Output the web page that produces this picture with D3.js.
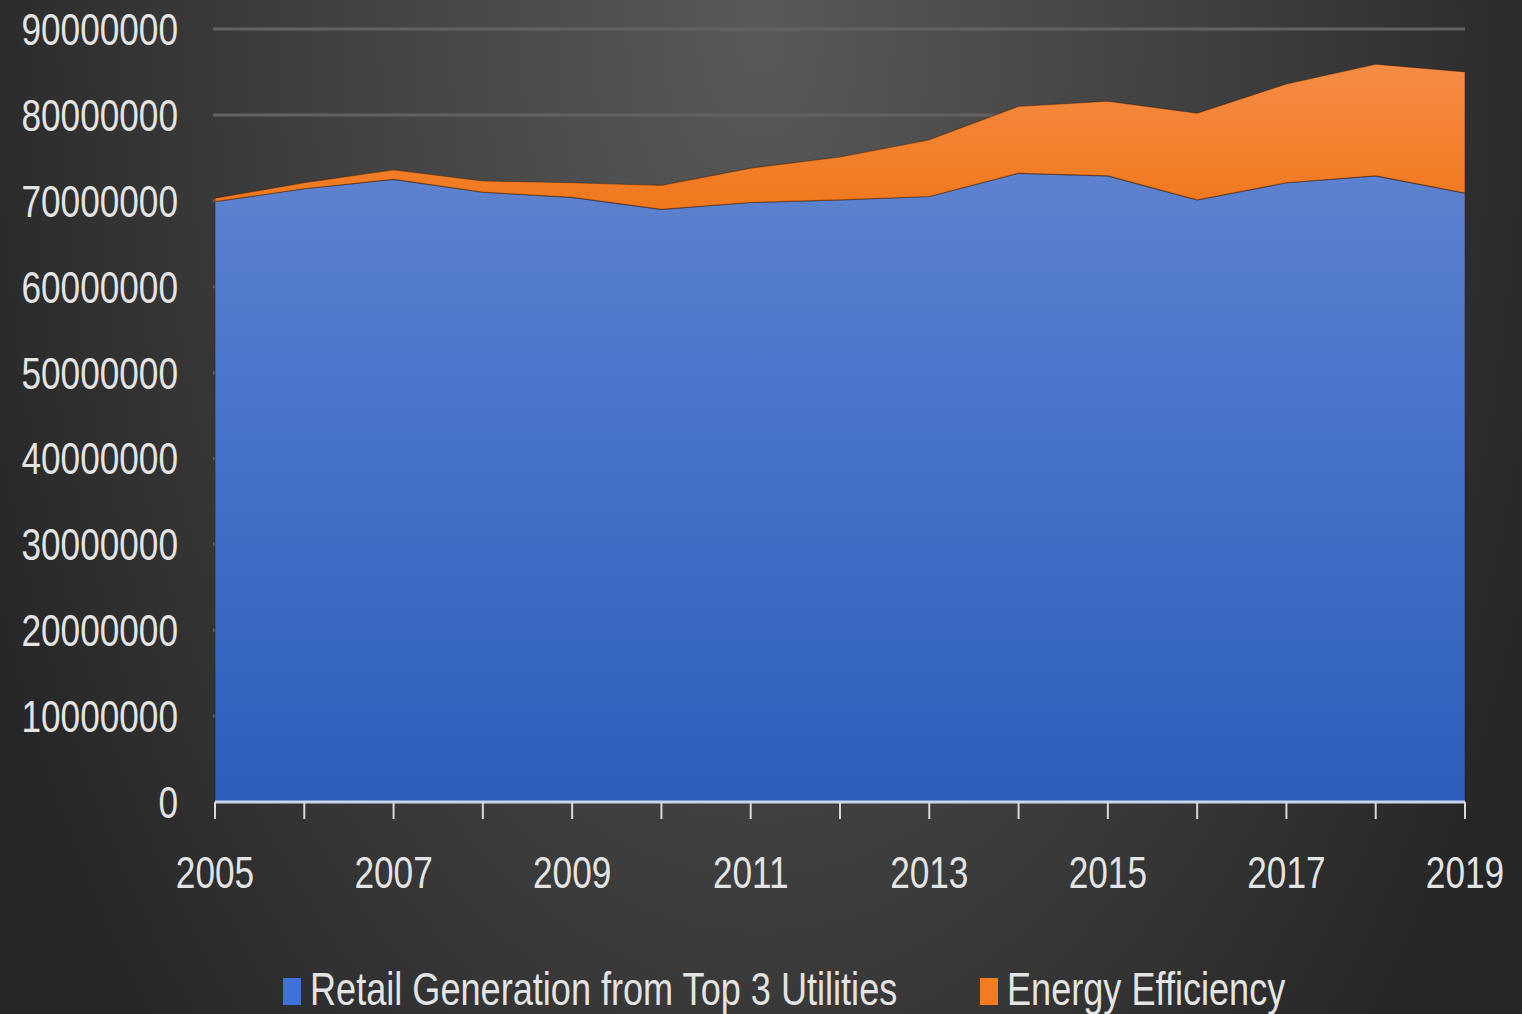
<!DOCTYPE html>
<html>
<head>
<meta charset="utf-8">
<script src="https://cdn.jsdelivr.net/npm/d3@7"></script>
<style>
  html, body { margin: 0; padding: 0; background: #2a2a2a; }
  svg { display: block; }
  text { font-family: "Liberation Sans", Arial, sans-serif; fill: #e4e4e4; }
</style>
</head>
<body>
<svg id="chart" width="1522" height="1014"></svg>
<script>
// data
const years = [2005, 2006, 2007, 2008, 2009, 2010, 2011, 2012, 2013, 2014, 2015, 2016, 2017, 2018, 2019]
const retail = [69900000, 71400000, 72500000, 71000000, 70400000, 69000000, 69800000, 70100000, 70500000, 73200000, 72900000, 70100000, 72100000, 72900000, 70900000]
const efficiency = [400000, 700000, 1100000, 1300000, 1700000, 2800000, 4000000, 5000000, 6600000, 7800000, 8700000, 10100000, 11500000, 13000000, 14100000]
const seriesNames = ["Retail Generation from Top 3 Utilities", "Energy Efficiency"]
const yTicks = [0, 10000000, 20000000, 30000000, 40000000, 50000000, 60000000, 70000000, 80000000, 90000000]
const xLabels = [2005, 2007, 2009, 2011, 2013, 2015, 2017, 2019]

const width = 1522, height = 1014
const margin = {top: 29, left: 215, right: 57, bottom: 212}
const squeeze = 0.8  // narrow look of the original font

const svg = d3.select("#chart")
const defs = svg.append("defs")

// background
let bg = defs.append("radialGradient")
    .attr("id", "bg")
    .attr("gradientUnits", "userSpaceOnUse")
    .attr("cx", 760).attr("cy", 30).attr("r", 1000)
    .attr("gradientTransform", "translate(760,30) scale(0.85,1.5) translate(-760,-30)")
bg.append("stop").attr("offset", "0%").attr("stop-color", "#595959")
bg.append("stop").attr("offset", "50%").attr("stop-color", "#414141")
bg.append("stop").attr("offset", "100%").attr("stop-color", "#262626")

let blueGrad = defs.append("linearGradient")
    .attr("id", "blueGrad").attr("x1", 0).attr("y1", 0).attr("x2", 0).attr("y2", 1)
blueGrad.append("stop").attr("offset", "0%").attr("stop-color", "#5d82cf")
blueGrad.append("stop").attr("offset", "50%").attr("stop-color", "#4370c8")
blueGrad.append("stop").attr("offset", "100%").attr("stop-color", "#2d5ebd")

let orangeGrad = defs.append("linearGradient")
    .attr("id", "orangeGrad").attr("x1", 0).attr("y1", 0).attr("x2", 0).attr("y2", 1)
orangeGrad.append("stop").attr("offset", "0%").attr("stop-color", "#f68c45")
orangeGrad.append("stop").attr("offset", "100%").attr("stop-color", "#f0781c")

svg.append("rect")
    .attr("width", width).attr("height", height)
    .attr("fill", "url(#bg)")

let x = d3.scaleLinear()
    .domain([years[0], years[years.length - 1]])
    .range([margin.left, width - margin.right])
let y = d3.scaleLinear()
    .domain([0, 90000000])
    .range([height - margin.bottom, margin.top])

// gridlines
svg.append("g")
    .selectAll("line")
    .data(yTicks.slice(1))
    .join("line")
    .attr("x1", x.range()[0] - 2)
    .attr("x2", x.range()[1])
    .attr("y1", d => y(d))
    .attr("y2", d => y(d))
    .attr("stroke", "#626262")
    .attr("stroke-width", 3)

let table = years.map((yr, i) => ({year: yr, retail: retail[i], efficiency: efficiency[i]}))
let stack = d3.stack().keys(["retail", "efficiency"])
let layers = stack(table)

let area = d3.area()
    .x(d => x(d.data.year))
    .y0(d => y(d[0]))
    .y1(d => y(d[1]))

const fills = ["url(#blueGrad)", "url(#orangeGrad)"]
const swatch = ["#3f72d6", "#f37b22"]

svg.append("g")
    .selectAll("path")
    .data(layers)
    .join("path")
    .attr("d", area)
    .attr("fill", (d, i) => fills[i])
    .attr("stroke", "rgba(60,30,10,0.45)")
    .attr("stroke-width", 1.2)
    .attr("stroke-linejoin", "round")

// x axis
let gx = svg.append("g")
gx.append("line")
    .attr("x1", x.range()[0]).attr("x2", x.range()[1])
    .attr("y1", y(0)).attr("y2", y(0))
    .attr("stroke", "#c9d5ec")
    .attr("stroke-width", 3)
gx.selectAll(".tick")
    .data(years)
    .join("line")
    .attr("class", "tick")
    .attr("x1", d => x(d)).attr("x2", d => x(d))
    .attr("y1", y(0)).attr("y2", y(0) + 17)
    .attr("stroke", "#d8d8d8")
    .attr("stroke-width", 2)
gx.selectAll("text")
    .data(xLabels)
    .join("text")
    .attr("transform", d => `translate(${x(d)},${y(0) + 86}) scale(${squeeze},1)`)
    .attr("text-anchor", "middle")
    .attr("font-size", 44)
    .text(d => d)

// y axis labels
svg.append("g")
    .selectAll("text")
    .data(yTicks)
    .join("text")
    .attr("transform", d => `translate(178,${y(d) + 16}) scale(${squeeze},1)`)
    .attr("text-anchor", "end")
    .attr("font-size", 44)
    .text(d => d)

// legend
const legendX = [283, 980]
let legend = svg.append("g")
    .selectAll("g")
    .data(seriesNames)
    .join("g")
    .attr("transform", (d, i) => `translate(${legendX[i]},0)`)
legend.append("rect")
    .attr("x", 0).attr("y", 978)
    .attr("width", 18).attr("height", 27)
    .attr("fill", (d, i) => swatch[i])
legend.append("text")
    .attr("transform", `translate(27,1005) scale(0.785,1)`)
    .attr("font-size", 46)
    .text(d => d)
</script>
</body>
</html>
